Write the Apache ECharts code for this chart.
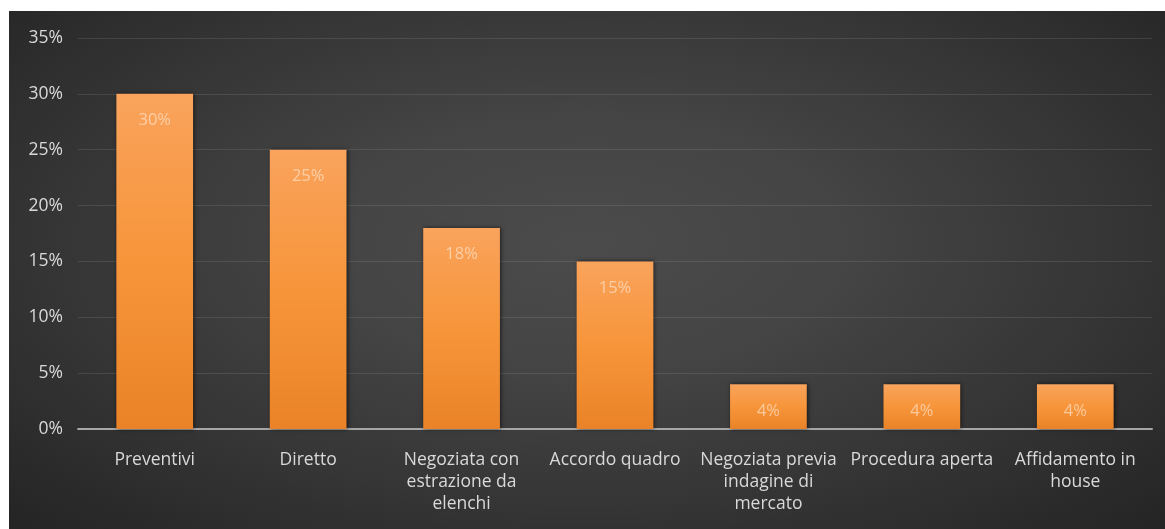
<!DOCTYPE html>
<html>
<head>
<meta charset="utf-8">
<script src="https://cdn.jsdelivr.net/npm/echarts@6/dist/echarts.min.js"></script>
<style>
  html, body { margin: 0; padding: 0; background: #ffffff; width: 1165px; height: 529px; overflow: hidden; }
  #chart {
    position: absolute; left: 9px; top: 11px; width: 1156px; height: 518px;
    background: radial-gradient(ellipse farthest-corner at 50% 45%, #4b4b4b 0%, #454545 30%, #353535 65%, #242424 100%);
  }
</style>
</head>
<body>
<div id="chart"></div>
<script>
// Procedure di affidamento: quota percentuale per tipologia
const categories = [
  'Preventivi',
  'Diretto',
  'Negoziata con\nestrazione da\nelenchi',
  'Accordo quadro',
  'Negoziata previa\nindagine di\nmercato',
  'Procedura aperta',
  'Affidamento in\nhouse'
];
const shares = [30, 25, 18, 15, 4, 4, 4];
const yTicks = [0, 5, 10, 15, 20, 25, 30, 35];

const chart = echarts.init(document.getElementById('chart'));
const font = '"Open Sans", Lato, sans-serif';

chart.setOption({
  animation: false,
  backgroundColor: 'transparent',
  grid: { left: 69, right: 13, top: 27, bottom: 100 },
  xAxis: {
    type: 'category',
    data: categories,
    axisTick: { show: false },
    axisLine: { lineStyle: { color: '#a6a6a6', width: 2 } },
    axisLabel: {
      color: '#d9d9d9', fontFamily: font, fontSize: 17.5,
      lineHeight: 22, margin: 20, interval: 0
    }
  },
  yAxis: {
    type: 'value',
    min: yTicks[0],
    max: yTicks[yTicks.length - 1],
    interval: 5,
    axisLine: { show: false },
    axisTick: { show: false },
    splitLine: { lineStyle: { color: 'rgba(255,255,255,0.1)', width: 1 } },
    axisLabel: {
      color: '#d9d9d9', fontFamily: font, fontSize: 17.5, margin: 15,
      formatter: v => v + '%'
    }
  },
  series: [{
    type: 'bar',
    data: shares,
    barWidth: '50%',
    itemStyle: {
      color: {
        type: 'linear', x: 0, y: 0, x2: 0, y2: 1,
        colorStops: [
          { offset: 0, color: '#f9a35c' },
          { offset: 0.5, color: '#f7953a' },
          { offset: 1, color: '#ea8328' }
        ]
      },
      shadowColor: 'rgba(0,0,0,0.6)',
      shadowBlur: 4,
      shadowOffsetX: 1,
      shadowOffsetY: 0
    },
    label: {
      show: true,
      position: 'insideTop',
      distance: 18,
      color: 'rgba(255,225,200,0.7)',
      fontFamily: font,
      fontSize: 16.5,
      formatter: p => p.value + '%'
    }
  }]
});
</script>
</body>
</html>
